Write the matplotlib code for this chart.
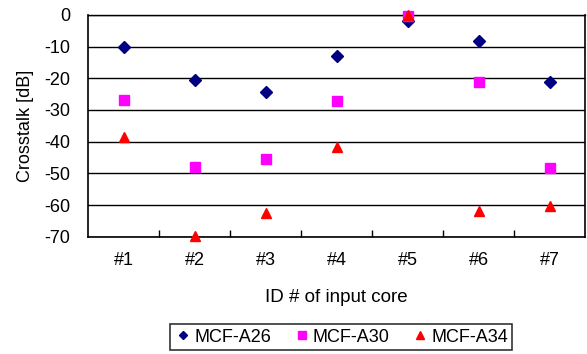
import numpy as np
import matplotlib.pyplot as plt

plt.rcParams['font.family'] = ['Liberation Sans', 'DejaVu Sans']
plt.rcParams['axes.unicode_minus'] = False

# Crosstalk per input core
cores = ['#1', '#2', '#3', '#4', '#5', '#6', '#7']
mcf_a26 = [-10.2, -20.6, -24.2, -13.1, -1.8, -8.3, -21.1]
mcf_a30 = [-26.8, -48.0, -45.5, -27.3, -0.2, -21.2, -48.4]
mcf_a34 = [-38.6, -69.7, -62.5, -41.8, 0.0, -62.0, -60.2]

fig = plt.figure(figsize=(5.87, 3.54), dpi=100)
ax = fig.add_axes([0.150, 0.331, 0.847, 0.627])

x = np.arange(len(cores))
ax.plot(x, mcf_a26, linestyle='none', marker='D', color='#000080', markersize=6, label='MCF-A26', clip_on=False, zorder=3)
ax.plot(x, mcf_a30, linestyle='none', marker='s', color='#ff00ff', markersize=7.5, label='MCF-A30', clip_on=False, zorder=3)
ax.plot(x, mcf_a34, linestyle='none', marker='^', color='#ff0000', markersize=7.5, label='MCF-A34', clip_on=False, zorder=3)

ax.set_xlim(-0.5, len(cores) - 0.5)
ax.set_ylim(-70, 0)
ax.set_yticks(np.arange(-70, 1, 10))
ax.set_xticks(x)
ax.set_xticklabels(cores)
ax.set_xticks(np.arange(0.5, len(cores) - 0.5, 1), minor=True)
ax.tick_params(axis='x', which='major', length=0, pad=11, labelsize=13)
ax.tick_params(axis='x', which='minor', direction='in', length=5, width=1)
ax.tick_params(axis='y', length=0, pad=13, labelsize=13)

ax.grid(axis='y', color='black', linewidth=1)
ax.set_axisbelow(True)
for side in ['left', 'bottom', 'right']:
    ax.spines[side].set_linewidth(1.2)
ax.spines['top'].set_linewidth(1.0)

ax.set_ylabel('Crosstalk [dB]', fontsize=13, labelpad=7)
ax.set_xlabel('ID # of input core', fontsize=13.5, labelpad=14)

leg = fig.legend(loc='center', bbox_to_anchor=(0.581, 0.048), ncol=3, fontsize=13,
                 frameon=True, fancybox=False, edgecolor='black', handlelength=1.0,
                 handletextpad=0.1, columnspacing=1.2, borderpad=0.25, borderaxespad=0,
                 markerscale=0.75)
leg.get_frame().set_linewidth(1.2)

plt.savefig('out.png', dpi=100)
